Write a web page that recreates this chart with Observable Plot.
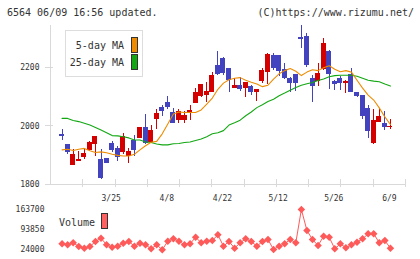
<!DOCTYPE html>
<html><head><meta charset="utf-8">
<script src="https://cdn.jsdelivr.net/npm/d3@7"></script>
<script src="https://cdn.jsdelivr.net/npm/@observablehq/plot@0.6"></script>
<style>
html,body{margin:0;padding:0;background:#fff;}
#wrap{position:relative;width:420px;height:259px;overflow:hidden;font-family:"DejaVu Sans Mono",monospace;color:#333;}
.abs{position:absolute;white-space:pre;line-height:10px;font-size:10px;}
.sw{position:absolute;box-sizing:border-box;border:1px solid #333;}
</style></head><body>
<div id="wrap">
  <div class="abs" style="left:7px;top:8px;">6564 06/09 16:56 updated.</div>
  <div class="abs" style="right:6px;top:8px;">(C)https://www.rizumu.net/</div>
  <div id="main" class="abs" style="left:0;top:0;"></div>
  <div id="vol" class="abs" style="left:0;top:205px;"></div>
  <div style="position:absolute;left:65px;top:30px;width:78px;height:47px;box-sizing:border-box;border:1px solid #ddd;background:#fff;"></div>
  <div class="abs" style="right:296px;top:41px;">5-day MA</div>
  <div class="abs" style="right:296px;top:57.5px;">25-day MA</div>
  <div class="sw" style="left:131px;top:37px;width:7px;height:16px;background:#ee8c00;"></div>
  <div class="sw" style="left:131px;top:54px;width:7px;height:16px;background:#13a813;"></div>
  <div class="abs" style="left:59px;top:217.5px;">Volume</div>
  <div class="sw" style="left:101px;top:213px;width:7px;height:16px;background:#ff6060;"></div>
</div>
<script>
// ---- data (index 0 = oldest trading day, index 60 = 6/9) ----
const opens  = [1955,1970,1935,1867,1878,1895,1918,1939,1884,1886,1939,1920,1912,1897,1950,1958,1992,1946,2023,2060,2080,2043,2020,2020,2049,2078,2103,2106,2117,2205,2231,2195,2130,2137,2131,2135,2117,2154,2186,2239,2239,2191,2160,2174,2302,2306,2160,2155,2197,2254,2152,2161,2146,2174,2114,2103,2057,1941,2015,2007,1995];
const highs  = [1955,1989,1935,1918,1914,1918,1946,1963,1918,1888,1946,1929,1973,1924,1966,1992,2041,2000,2055,2072,2100,2060,2055,2049,2072,2129,2140,2148,2182,2256,2235,2197,2163,2166,2148,2140,2125,2197,2248,2248,2239,2214,2166,2174,2345,2317,2174,2214,2300,2260,2157,2171,2157,2197,2114,2103,2072,2055,2060,2049,2023];
const lows   = [1955,1950,1903,1867,1878,1886,1912,1895,1815,1870,1910,1878,1901,1872,1895,1958,1935,1941,1989,2034,2055,2007,2007,2009,2020,2078,2098,2080,2114,2174,2174,2114,2129,2117,2098,2106,2083,2146,2144,2189,2171,2160,2114,2117,2266,2200,2080,2137,2191,2125,2123,2121,2112,2117,2098,2023,1958,1938,2011,1984,1989];
const closes = [1955,1966,1910,1901,1884,1904,1943,1963,1823,1873,1918,1895,1961,1910,1916,1992,1943,1983,2041,2051,2066,2011,2049,2034,2052,2114,2140,2117,2171,2180,2182,2157,2137,2127,2146,2117,2125,2189,2243,2200,2189,2166,2148,2148,2299,2209,2138,2180,2280,2178,2143,2146,2150,2117,2103,2034,1984,2017,2032,1998,1998];
const ma5    = [null,1918,1920,1916,1920,1923,1915,1909,1911,1908,1903,1899,1897,1897,1903,1918,1932,1944,1947,1973,2007,2041,2048,2046,2046,2046,2055,2075,2096,2126,2147,2159,2164,2166,2157,2150,2144,2135,2140,2161,2179,2190,2197,2188,2173,2185,2193,2190,2200,2207,2195,2186,2190,2185,2157,2130,2106,2089,2062,2031,2005];
const ma25   = [null,2026,2026,2019,2015,2009,2003,1995,1986,1977,1967,1966,1963,1959,1952,1952,1945,1943,1938,1935,1935,1939,1940,1943,1945,1950,1955,1963,1973,1977,1984,2003,2011,2020,2035,2048,2063,2073,2084,2092,2104,2113,2123,2132,2140,2145,2149,2156,2161,2169,2173,2174,2174,2174,2171,2164,2157,2154,2152,2144,2137];
const volumes= [null,43000,39500,46500,33500,27500,33500,51000,62700,39500,31000,34600,45100,51000,34600,45100,39500,25400,39500,22000,52200,60600,52200,39500,43000,66200,46500,52200,54600,74700,34600,51100,27500,46500,60600,51100,34600,51100,58100,22900,34600,43000,58100,46500,163700,89800,58100,37000,69700,66200,25400,43000,28900,39500,48600,60600,78200,78200,46500,54600,27500];
const xLabelIdx = [10,20,30,40,50,60];
const xLabels   = ["3/25","4/8","4/22","5/12","5/26","6/9"];
const priceTicks = [1800,2000,2200];
const volTicks   = [24000,93850,163700];

const RED = "#d40000", BLUE = "#4343c0", ORANGE = "#ee8c00", GREEN = "#13a813", VOL = "#ff5a5a", GRID = "#d9d9d9";
const idx = d3.range(closes.length);
const xDom = [-1.078, 62.71];
const yDom = [1799, 2345];
const col = i => closes[i] >= opens[i] ? RED : BLUE;
const pxX = (xDom[1]-xDom[0]) / 355;   // data units per pixel (x)
const pxY = (yDom[1]-yDom[0]) / 159;   // data units per pixel (y)
const xTicks = d3.range(1, 12).map(k => xDom[0] + k * (xDom[1]-xDom[0]) / 11);
const baseStyle = {fontFamily: "DejaVu Sans Mono, monospace", fontSize: "8px", background: "transparent", overflow: "visible", color: "#333"};

const main = Plot.plot({
  width: 420, height: 205,
  marginLeft: 50, marginRight: 15, marginTop: 25, marginBottom: 21,
  x: {domain: xDom, axis: null},
  y: {domain: yDom, axis: null},
  style: baseStyle,
  marks: [
    Plot.ruleX([xDom[0]], {stroke: GRID, shapeRendering: "crispEdges"}),
    Plot.ruleY([yDom[0]], {stroke: GRID, shapeRendering: "crispEdges"}),
    Plot.ruleX(xTicks, {x: d => d, y1: yDom[0] + 5*pxY, y2: yDom[0] - 2.5*pxY, stroke: GRID, shapeRendering: "crispEdges"}),
    Plot.ruleY(priceTicks, {y: d => d, x1: xDom[0] - 5*pxX, x2: xDom[0] + 3*pxX, stroke: GRID, shapeRendering: "crispEdges"}),
    Plot.text(priceTicks, {x: xDom[0], y: d => d, text: d => String(d), textAnchor: "end", dx: -11, fill: "#333"}),
    Plot.text(xLabelIdx, {x: d => d, y: yDom[0], text: (d, i) => xLabels[i], dy: 13.5, dx: -1, fill: "#333"}),
    Plot.ruleX(idx, {x: i => i, y1: i => lows[i], y2: i => highs[i], stroke: col, shapeRendering: "crispEdges"}),
    Plot.rect(idx, {x1: i => i - 0.36, x2: i => i + 0.36, y1: i => opens[i], y2: i => closes[i], fill: col, stroke: col, strokeWidth: 1, shapeRendering: "crispEdges"}),
    Plot.line(idx, {x: i => i, y: i => ma25[i], stroke: GREEN, strokeWidth: 1.1}),
    Plot.line(idx, {x: i => i, y: i => ma5[i], stroke: ORANGE, strokeWidth: 1.1})
  ]
});
document.getElementById("main").append(main);

const vIdx = idx.filter(i => volumes[i] != null);
const vol = Plot.plot({
  width: 420, height: 54,
  marginLeft: 50, marginRight: 15, marginTop: 4, marginBottom: 10.3,
  x: {domain: xDom, axis: null},
  y: {domain: [volTicks[0], volTicks[2]], axis: null},
  style: baseStyle,
  marks: [
    Plot.text(volTicks, {x: xDom[0], y: d => d, text: d => String(d), textAnchor: "end", dx: -6, fill: "#333"}),
    Plot.line(vIdx, {x: i => i, y: i => volumes[i], stroke: VOL, strokeWidth: 1}),
    Plot.dot(vIdx, {x: i => i, y: i => volumes[i], symbol: "square", rotate: 45, r: 3, fill: VOL})
  ]
});
document.getElementById("vol").append(vol);
</script>
</body></html>
